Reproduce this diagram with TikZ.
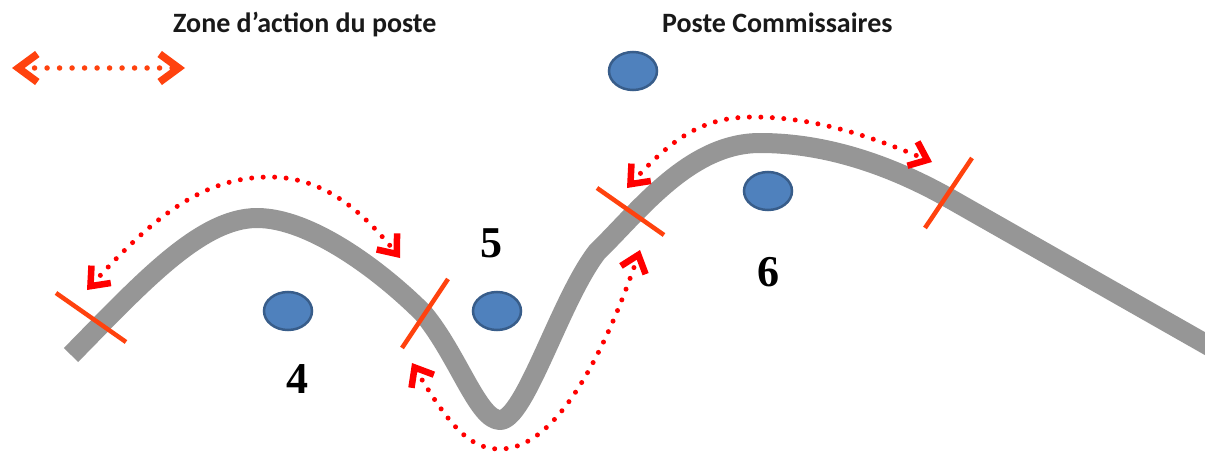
\documentclass[tikz,border=0pt]{standalone}
\usepackage{fontspec}
\setmainfont{Liberation Serif}
\newfontfamily\calib{Carlito}
\usetikzlibrary{shapes.geometric,arrows.meta,bending}
\definecolor{trackgray}{RGB}{150,150,150}
\definecolor{tickred}{RGB}{255,66,14}
\definecolor{dotred}{RGB}{255,0,0}
\definecolor{postfill}{RGB}{79,129,189}
\definecolor{postline}{RGB}{56,93,138}
\tikzset{
  track/.style={draw=trackgray, line width=20pt, line cap=butt, line join=round},
  marker/.style={draw=tickred, line width=4.5pt},
  zonearrow/.style={draw=dotred, line width=5pt, line cap=round,
    dash pattern=on 0pt off 11.5pt,
    arrows={Straight Barb[length=16pt,width=26pt,line width=6.5pt,flex]-Straight Barb[length=16pt,width=26pt,line width=6.5pt,flex]}},
  legendarrow/.style={draw=tickred, line width=5.5pt, line cap=round,
    dash pattern=on 0pt off 12.5pt,
    arrows={Straight Barb[length=19pt,width=28pt,line width=7.5pt]-Straight Barb[length=19pt,width=28pt,line width=7.5pt]}},
  post/.style={ellipse, draw=postline, fill=postfill, line width=2.5pt,
    minimum width=48pt, minimum height=38pt, inner sep=0pt},
  legendtext/.style={font=\calib\bfseries\fontsize{28}{33}\selectfont, text=black!90, anchor=base west, inner sep=0pt},
  numlabel/.style={font=\bfseries\fontsize{44}{50}\selectfont, inner sep=0pt}
}
\begin{document}
\begin{tikzpicture}[x=1pt,y=-1pt]
\useasboundingbox (0,0) rectangle (1205,452);
\clip (0,0) rectangle (1205,452);
% legend
\node[legendtext] (zonetxt) at (173,33) {Zone d’action du poste};
\node[legendtext] (postetxt) at (662,33) {Poste Commissaires};
\coordinate (la) at (12,68);
\coordinate (lb) at (185,68);
\draw[legendarrow] (la) -- (lb);
\node[post] (plegend) at (633,71) {};
% track
\draw[track] (71,355) .. controls (140,285) and (200,218) .. (257,218)
  .. controls (310,218) and (380,270) .. (423,313)
  .. controls (458,355) and (478,420) .. (500,420)
  .. controls (525,420) and (560,300) .. (597,252)
  .. controls (640,210) and (690,143) .. (760,143)
  .. controls (830,143) and (895,168) .. (947,197)
  -- (1225,355);
% markers
\draw[marker] (56,293) -- (126,342);
\draw[marker] (448,279) -- (402,348);
\draw[marker] (597,188) -- (664,235);
\draw[marker] (972,158) -- (925,228);
% zone arrows
\draw[zonearrow] (87,290) .. controls (150,220) and (200,177) .. (270,177)
  .. controls (330,177) and (370,220) .. (400,258);
\draw[zonearrow] (412,363) .. controls (450,428) and (470,449) .. (500,449)
  .. controls (560,449) and (610,340) .. (640,250);
\draw[zonearrow] (627,188) .. controls (670,140) and (700,117) .. (753,117)
  .. controls (820,117) and (880,140) .. (932,162);
% posts
\node[post] (p4) at (288,311) {};
\node[post] (p5) at (497,311) {};
\node[post] (p6) at (768,191) {};
\node[numlabel] (n4) at (297,379) {4};
\node[numlabel] (n5) at (491,243) {5};
\node[numlabel] (n6) at (768,272) {6};
\end{tikzpicture}
\end{document}
